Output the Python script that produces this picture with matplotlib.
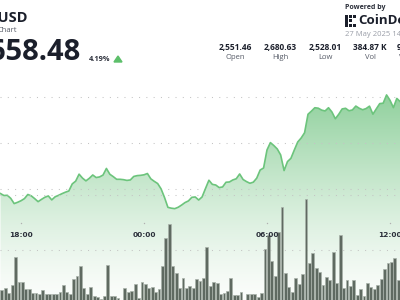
import matplotlib
matplotlib.use("Agg")
import matplotlib.pyplot as plt
import numpy as np
from matplotlib.patches import Polygon, Rectangle
from matplotlib.colors import to_rgb

# ---------------- data ----------------
# price every 10 minutes starting 17:00 (minutes from 17:00)
price = [
    2545.0, 2542.9, 2543.1, 2539.8, 2534.1, 2535.5, 2537.2, 2539.5, 2544.0, 2542.5,
    2539.5, 2536.2, 2538.7, 2541.0, 2542.4, 2538.1, 2541.5, 2543.1, 2544.9, 2546.5,
    2547.8, 2555.5, 2558.5, 2566.1, 2561.8, 2558.8, 2561.6, 2565.2, 2562.4, 2563.1,
    2565.1, 2572.3, 2566.0, 2563.4, 2560.5, 2560.5, 2560.1, 2559.3, 2559.8, 2563.6,
    2564.5, 2564.8, 2565.4, 2566.8, 2561.0, 2558.3, 2555.9, 2550.1, 2540.8, 2530.0,
    2529.1, 2528.6, 2530.1, 2532.5, 2535.2, 2537.0, 2540.9, 2541.3, 2538.0, 2541.3,
    2550.5, 2559.5, 2555.0, 2554.3, 2551.5, 2552.2, 2557.3, 2557.6, 2559.8, 2561.1,
    2566.3, 2560.3, 2558.0, 2556.2, 2557.4, 2561.8, 2570.6, 2572.8, 2592.4, 2600.4,
    2597.2, 2593.5, 2587.0, 2570.0, 2579.8, 2583.3, 2592.4, 2601.1, 2605.4, 2611.1,
    2631.2, 2634.6, 2638.3, 2637.8, 2635.7, 2634.8, 2638.3, 2633.7, 2626.3, 2631.2,
    2637.0, 2637.7, 2635.0, 2635.9, 2640.1, 2637.7, 2636.1, 2637.4, 2640.0, 2631.3,
    2637.1, 2642.8, 2643.2, 2652.2, 2646.4, 2638.4, 2648.4, 2644.9,
]
price_minutes = [10 * i for i in range(len(price))]

volume = [
    10, 11.7, 6.7, 15, 43.3, 17.7, 17.7, 10.7, 10.7, 7.3,
    7.3, 6, 10, 5.7, 5.7, 5.7, 6.3, 8.3, 15, 8.3,
    5.7, 21, 24.3, 34.3, 12.3, 5.7, 13.3, 4, 3, 1,
    4, 35, 4, 4, 1.7, 0.5, 11.7, 8.3, 9, 15.7,
    1.7, 17.7, 15.7, 12.3, 13, 7.7, 11, 34.3, 62.3, 75.7,
    34.3, 26.7, 12.3, 21.7, 12.3, 14.3, 12.3, 21, 19, 22.3,
    53.3, 14.3, 17.7, 16.7, 5.7, 7.3, 9, 21.7, 5, 5,
    8.3, 0.5, 5.7, 5.7, 5.7, 3.3, 7.5, 50.7, 65, 39.3,
    24, 68.3, 92.7, 27.3, 12.7, 8.3, 21.7, 16, 26, 100.7,
    37.3, 46.7, 31.7, 28.3, 15, 23.3, 20, 48.3, 17.3, 65,
    12, 20, 14, 20, 5, 10.7, 4, 17.3, 13.3, 10.7,
    15, 20.7, 30.7, 37.3, 38, 42, 20,
]
volume_minutes = [10 * i for i in range(len(volume))]

tick_labels = ["18:00", "00:00", "06:00", "12:00"]
tick_minutes = [60, 420, 780, 1140]

symbol = "ETH-USD"
last_price = "2,658.48"
change = "4.19%"
stat_values = ["2,551.46", "2,680.63", "2,528.01", "384.87 K", "986.74 M"]
stat_names = ["Open", "High", "Low", "Vol", "Vol (USD)"]
timestamp = "27 May 2025 14:30"

# ---------------- figure ----------------
W, H = 400, 300
fig = plt.figure(figsize=(4, 3), dpi=100)
fig.patch.set_facecolor("white")

def fx(px):
    return px / W

def fy(py):
    return 1 - py / H

XMIN, XMAX = -1.46, 1169.3
PMIN, PMAX = 2429.3, 2755.4

ax = fig.add_axes([0, 0, 1, 1])
ax.set_xlim(XMIN, XMAX)
ax.set_ylim(PMIN, PMAX)
for s in ax.spines.values():
    s.set_visible(False)
ax.set_xticks([])
ax.set_yticks([2550, 2600, 2650])
ax.tick_params(left=False, labelleft=False)
ax.set_axisbelow("line")
ax.grid(axis="y", color="#c4c4c4", lw=0.75, ls=(0, (1, 6)))

# gradient fill under the line
poly = ax.fill_between(price_minutes, price, PMIN, color="none", lw=0)
top_c = np.array(to_rgb("#8fd09c"))
bot_c = np.array(to_rgb("#fbfdfb"))
n = 256
frac = np.linspace(0, 1, n)[:, None]  # 0 bottom -> 1 top
grad = bot_c + (top_c - bot_c) * frac ** 1.3
img = ax.imshow(grad[:, None, :], extent=[XMIN, XMAX, PMIN, 2655],
                origin="lower", aspect="auto", zorder=1, interpolation="bilinear")
img.set_clip_path(poly.get_paths()[0], transform=ax.transData)
ax.set_xlim(XMIN, XMAX)
ax.set_ylim(PMIN, PMAX)
ax.plot(price_minutes, price, color="#6cc47c", lw=1.2, zorder=3,
        solid_joinstyle="round")

# volume axes
ax2 = fig.add_axes([0, 0, 1, 1])
ax2.patch.set_alpha(0)
ax2.set_xlim(XMIN, XMAX)
ax2.set_ylim(0, 300)
for s in ax2.spines.values():
    s.set_visible(False)
ax2.set_xticks([])
ax2.set_yticks([50, 105])
ax2.tick_params(left=False, labelleft=False)
ax2.set_axisbelow(True)
ax2.grid(axis="y", color="#c4c4c4", lw=0.75, ls=(0, (1, 6)))
ax2.bar(volume_minutes, volume, width=8.2, align="edge", color="#5f6a61",
        edgecolor="#a9b2aa", linewidth=0.5, zorder=2)

# x tick labels
tr = ax2.get_xaxis_transform()
for m, lab in zip(tick_minutes, tick_labels):
    ax2.plot([m], [fy(223)], transform=tr, marker="o", ms=1.0,
             color="#b0b0b0", mec="none", zorder=4)
    ax2.text(m, fy(235), lab, transform=tr, ha="center", va="center",
             fontsize=5.3, fontweight="bold", color="#2b2f3a", zorder=4)

# ---------------- header texts ----------------
dark = "#1b1f2b"
fig.text(fx(28), fy(18), symbol, ha="right", va="center", fontsize=10.5,
         fontweight="bold", color=dark, family="Open Sans")
fig.text(fx(16.5), fy(30), "Chart", ha="right", va="center", fontsize=5.5,
         color="#555a66", family="Open Sans")
fig.text(fx(81), fy(52), last_price, ha="right", va="center", fontsize=21,
         fontweight="bold", color=dark, family="Open Sans")
fig.text(fx(89), fy(59.5), change, ha="left", va="center", fontsize=5.3,
         fontweight="bold", color="#2b2f3a", family="Open Sans")
tri = Polygon([[fx(114), fy(62)], [fx(122), fy(62)], [fx(118), fy(56)]],
              closed=True, transform=fig.transFigure, color="#5cbf6a")
fig.patches.append(tri)

# powered by + logo
fig.text(fx(345), fy(7.5), "Powered by", ha="left", va="center", fontsize=5,
         fontweight="bold", color="#2b2f3a", family="Open Sans")
for (x0, y0, w, h) in [(345, 15, 3, 12), (349, 15, 3, 3), (349, 19, 3, 3),
                       (353, 15, 3, 3), (353, 24, 3, 3), (349, 24, 3, 3)]:
    fig.patches.append(Rectangle((fx(x0), fy(y0 + h)), w / W, h / H,
                                 transform=fig.transFigure, color=dark, lw=0))
fig.text(fx(358), fy(21), "CoinDesk", ha="left", va="center", fontsize=9.5,
         fontweight="bold", color=dark, family="Open Sans")
fig.text(fx(345), fy(34.5), timestamp, ha="left", va="center", fontsize=5.5,
         color="#9a9ea8", family="Open Sans")

# stats
stat_x = [235, 280, 325, 370, 415]
for x, v, nm in zip(stat_x, stat_values, stat_names):
    fig.text(fx(x), fy(47), v, ha="center", va="center", fontsize=6,
             fontweight="bold", color=dark, family="Open Sans")
    fig.text(fx(x), fy(57.5), nm, ha="center", va="center", fontsize=5.5,
             color="#555a66", family="Open Sans")

fig.savefig("out.png", dpi=100)
